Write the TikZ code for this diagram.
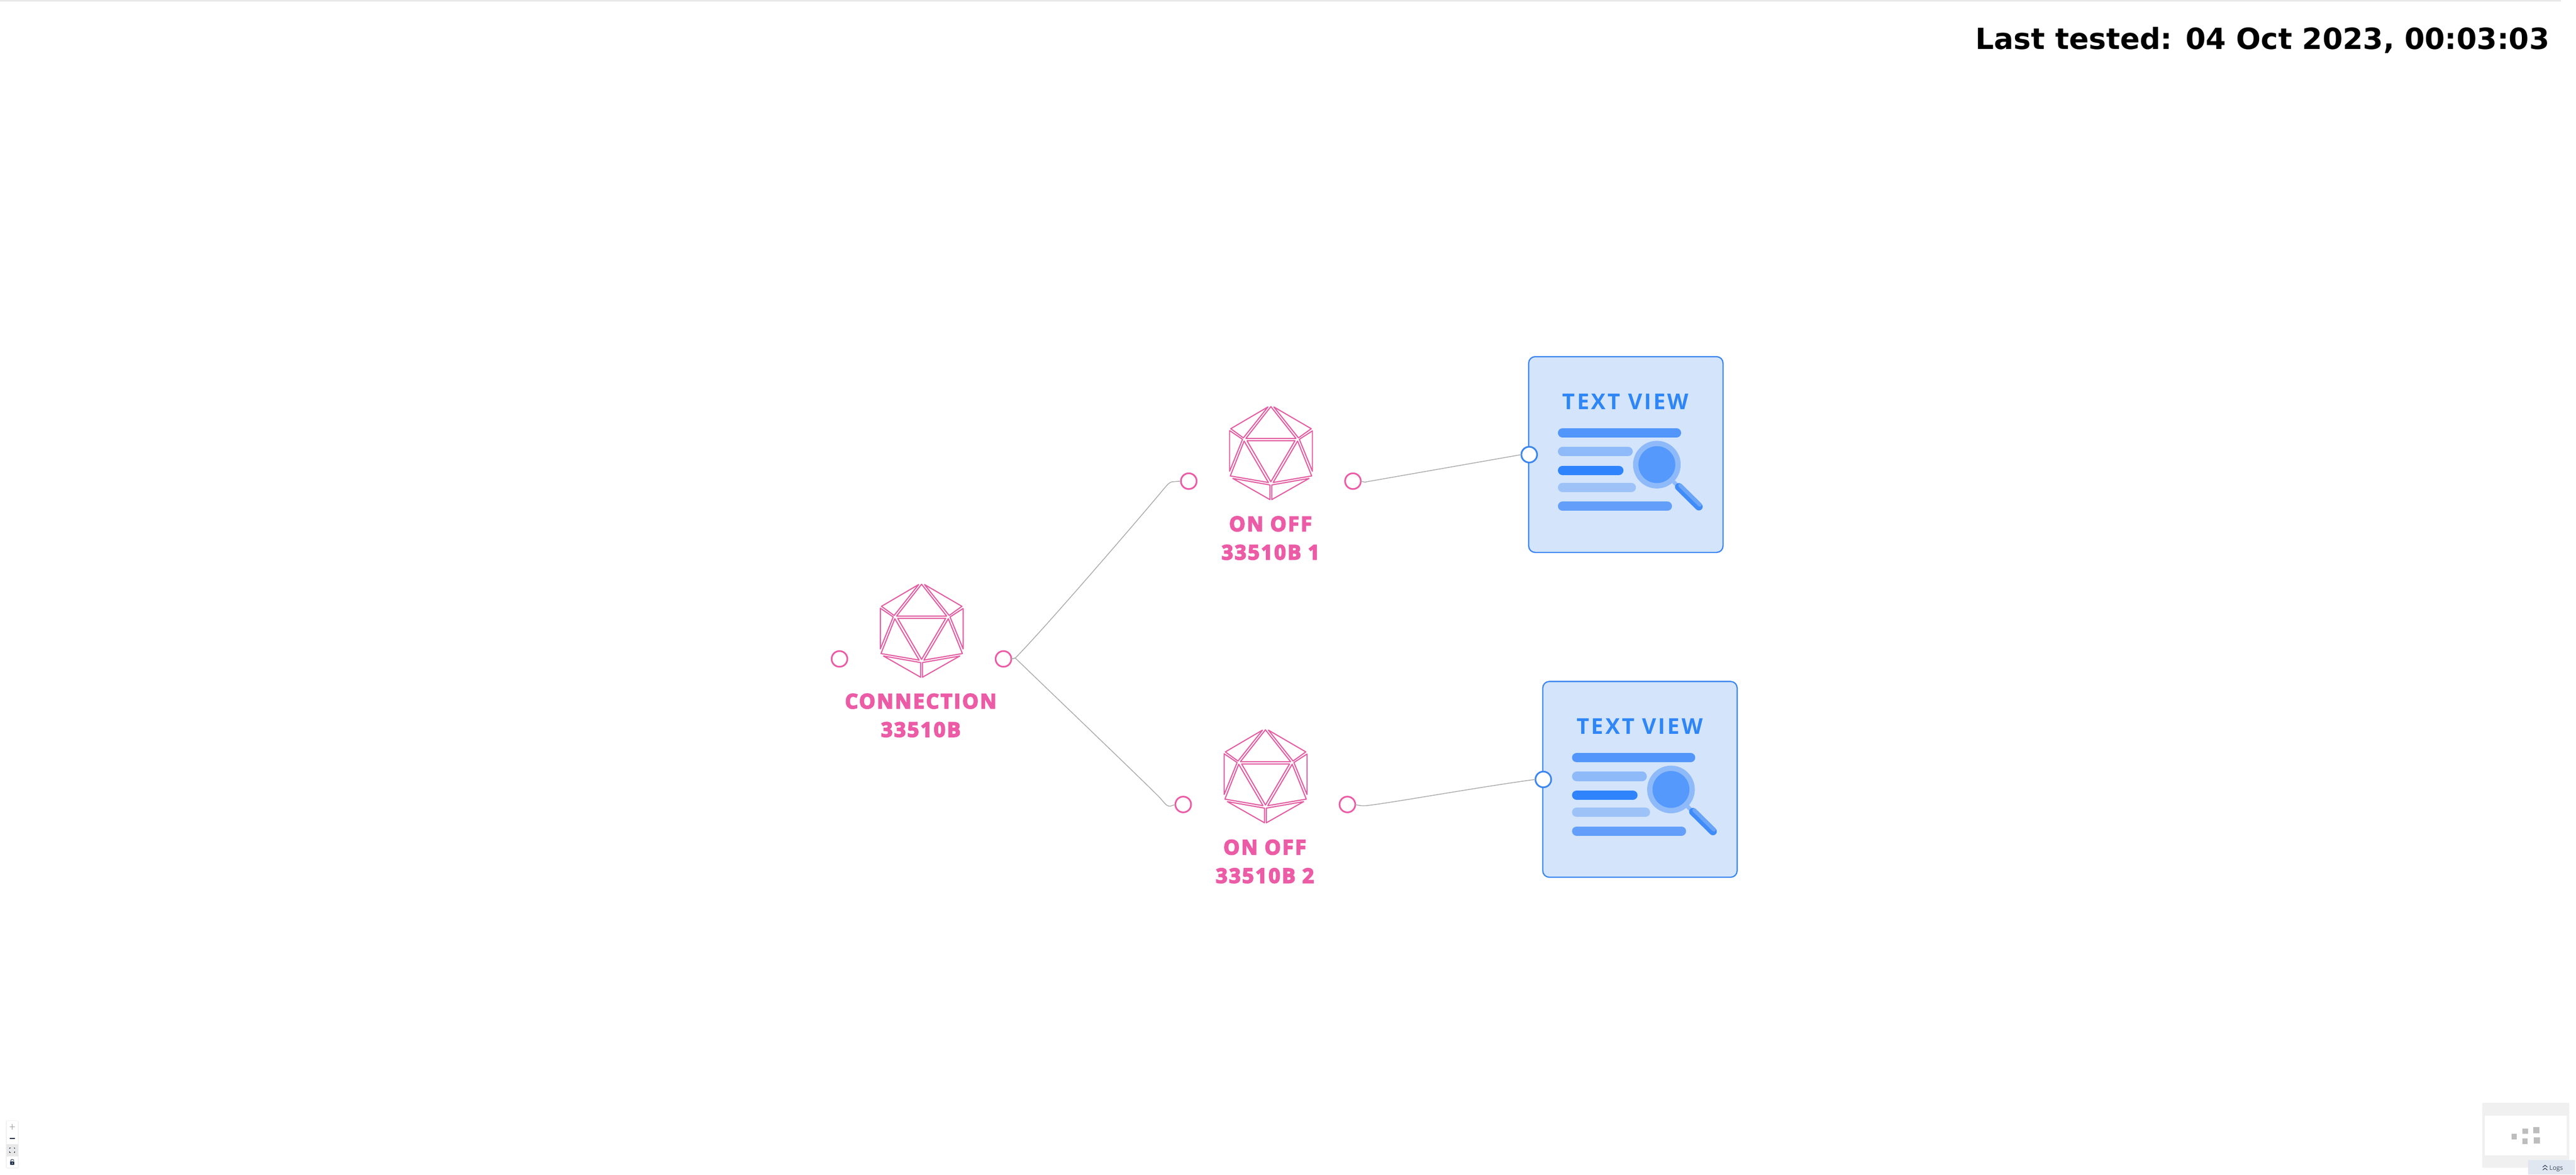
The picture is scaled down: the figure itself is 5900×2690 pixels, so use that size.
\documentclass[tikz,border=0pt]{standalone}
\usepackage{fontspec}
\setmainfont{Open Sans}
\newfontfamily\labfont[BoldFeatures={FakeBold=5,LetterSpace=8}]{Open Sans}
\newfontfamily\tvfont[BoldFeatures={LetterSpace=9}]{Open Sans}
\newfontfamily\stampfont{DejaVu Sans}
\definecolor{pinkc}{HTML}{EC5CA6}
\definecolor{iconp}{HTML}{E35FA3}
\definecolor{wire}{HTML}{ABABAB}
\definecolor{tvedge}{HTML}{3B86F0}
\definecolor{tvfill}{HTML}{D3E4FB}
\definecolor{tvtext}{HTML}{2F86F6}
\definecolor{barA}{HTML}{5296FB}
\definecolor{barB}{HTML}{8FBAF9}
\definecolor{barC}{HTML}{2F84FD}
\definecolor{barD}{HTML}{9DC2F8}
\definecolor{barE}{HTML}{639FFA}
\definecolor{lensin}{HTML}{5599FD}
\definecolor{handleL}{HTML}{6BA5F8}
\definecolor{handleD}{HTML}{3F8BF8}
\definecolor{mapbg}{HTML}{F0F0F0}
\definecolor{mapsq}{HTML}{BDBDBD}
\definecolor{logbg}{HTML}{E0E7F1}
\definecolor{inkd}{HTML}{1A2A44}
\tikzset{
  every node/.style={inner sep=0pt,outer sep=0pt},
  facet/.style={draw=iconp,line width=0.026cm,line join=round},
  pinkport/.style={circle,draw=pinkc,fill=white,line width=0.038cm,minimum size=0.36cm},
  blueport/.style={circle,draw=tvedge,fill=white,line width=0.038cm,minimum size=0.36cm},
  link/.style={draw=wire,line width=0.018cm,line join=round},
  pinklabel/.style={text=pinkc,align=center,font=\labfont\bfseries\fontsize{13.2pt}{18.5pt}\selectfont},
  bar/.style={line width=0.2133cm,line cap=round},
  ico/.pic={
    \begin{scope}[x=0.003333cm,y=-0.003333cm,shift={(-692,-113)}]
      \draw[facet] (692,113)--(865,332)--(520,332)--cycle;
      \draw[facet] (528,348)--(858,348)--(692,630)--cycle;
      \draw[facet] (672,115)--(503,328)--(416,265)--cycle;
      \draw[facet] (712,115)--(882,328)--(970,265)--cycle;
      \draw[facet] (408,278)--(497,338)--(408,558)--cycle;
      \draw[facet] (978,280)--(888,338)--(978,558)--cycle;
      \draw[facet] (508,350)--(675,635)--(413,590)--cycle;
      \draw[facet] (876,350)--(708,635)--(973,590)--cycle;
      \draw[facet] (430,607)--(686,652)--(686,753)--cycle;
      \draw[facet] (955,607)--(698,652)--(698,753)--cycle;
    \end{scope}
  },
  tview/.pic={
    \begin{scope}[x=0.003333cm,y=-0.003333cm]
      \node[draw=tvedge,fill=tvfill,line width=0.028cm,rounded corners=0.15cm,
            minimum width=4.45cm,minimum height=4.48cm] (box) at (762.5,753.5) {};
      \node[anchor=base,text=tvtext,font=\tvfont\bfseries\fontsize{14.2pt}{16pt}\selectfont] (title) at (761,442) {TEXT VIEW};
      \draw[bar,barA] (327,604)--(1111,604);
      \draw[bar,barB] (327,733)--(778,733);
      \draw[bar,barC] (327,862)--(714,862);
      \draw[bar,barD] (327,980)--(800,980);
      \draw[bar,barE] (327,1109)--(1048,1109);
      \draw[barB,line width=0.09cm] (1090,940)--(1135,985);
      \fill[barB] (976,823) circle (164);
      \fill[lensin] (976,823) circle (127);
      \draw[handleD,line width=0.175cm,line cap=round] (1127,976)--(1265,1112);
      \draw[handleL,line width=0.09cm,line cap=round] (1137,966)--(1272,1099);
    \end{scope}
  }
}
\begin{document}
\begin{tikzpicture}[x=0.01cm,y=-0.01cm]
\useasboundingbox (0,0) rectangle (5900,2690);
\fill[white] (0,0) rectangle (5900,2690);
\fill[black!9] (0,0) rectangle (5866,3);
\node[anchor=base west,font=\stampfont\bfseries\fontsize{18.95pt}{22pt}\selectfont] (stamp) at (4525,113) {Last tested: 04 Oct 2023, 00:03:03};

% icons
\pic (iconA) at (2110.7,1337.7) {ico};
\pic (iconB) at (2910.7,931) {ico};
\pic (iconC) at (2898.3,1671) {ico};

% labels
\node[pinklabel] (labA) at (2109,1638) {CONNECTION\\33510B};
\node[pinklabel] (labB) at (2910,1232) {ON OFF\\33510B 1};
\node[pinklabel] (labC) at (2897,1972.5) {ON OFF\\33510B 2};

% ports
\node[pinkport] (pAl) at (1922.7,1508.7) {};
\node[pinkport] (pAr) at (2298.3,1508.7) {};
\node[pinkport] (pBl) at (2722.7,1101.7) {};
\node[pinkport] (pBr) at (3098.7,1101.7) {};
\node[pinkport] (pCl) at (2710,1842) {};
\node[pinkport] (pCr) at (3086,1842) {};

% text views
\pic (tvA) at (3470,790) {tview};
\pic (tvB) at (3502.3,1533.7) {tview};
\node[blueport] (pTA) at ([xshift=0.013cm,yshift=-0.002cm]tvAbox.west) {};
\node[blueport] (pTB) at ([xshift=0.013cm,yshift=-0.002cm]tvBbox.west) {};

% connectors
\draw[link] (pAr.east) -- ++(9,-2) .. controls ++(60,-60) and (2600,1198) .. (2660,1126)
  .. controls (2672,1112) and (2678,1103) .. (2687,1103) -- (pBl.west);
\draw[link] (pAr.east) -- ++(9,-2) .. controls ++(60,58) and (2600,1770) .. (2654,1824)
  .. controls (2666,1836) and (2670,1846) .. (2680,1846) -- (pCl.west);
\draw[link] (pBr.east) .. controls ++(4,1) and ++(5,2) .. ++(10,2) -- (pTA.west);
\draw[link] (pCr.east) .. controls ++(6,2) and (3120,1846) .. (3135,1844) .. controls (3200,1836) and (3400,1800) .. (pTB.west);

% minimap
\fill[mapbg] (5685,2525) rectangle (5885,2674);
\fill[white] (5691,2554.3) rectangle (5879,2645);
\begin{scope}[shift={(5660,2500)},x=0.003333cm,y=-0.003333cm]
  \fill[mapsq] (277,290) rectangle (313,326);
  \fill[mapsq] (353,252) rectangle (390,288);
  \fill[mapsq] (352,322) rectangle (388,358);
  \fill[mapsq] (428,243) rectangle (470,285);
  \fill[mapsq] (431,313) rectangle (473,356);
  \fill[logbg] (390,468) rectangle (715,570);
  \draw[inkd,line width=0.012cm] (492,518)--(508,505)--(524,518);
  \draw[inkd,line width=0.012cm] (492,538)--(508,525)--(524,538);
  \node[anchor=base west,text=inkd!85,font=\fontsize{4.1pt}{5pt}\selectfont] (logs) at (538,538) {Logs};
\end{scope}

% zoom controls
\begin{scope}[shift={(0,2560)},x=0.003333cm,y=-0.003333cm]
  \fill[black!8,rounded corners=0.02cm] (41,17) rectangle (127,346);
  \fill[white] (45,20) rectangle (123,100);
  \fill[white] (45,101) rectangle (123,180);
  \fill[black!9] (45,181) rectangle (123,262);
  \fill[white] (45,263) rectangle (123,342);
  \draw[black!40,line width=0.016cm] (66,60)--(102,60) (84,42)--(84,78);
  \draw[inkd,line width=0.014cm] (66,140)--(102,140);
  \draw[inkd,line width=0.012cm] (67,212)--(67,205)--(74,205) (94,205)--(101,205)--(101,212)
     (67,230)--(67,237)--(74,237) (94,237)--(101,237)--(101,230);
  \fill[inkd,rounded corners=0.008cm] (70,298) rectangle (98,322);
  \fill[white] (84,310) circle (4);
  \draw[inkd,line width=0.012cm] (74,298)--(74,294) .. controls (74,282) and (90,282) .. (96,292);
\end{scope}
\end{tikzpicture}
\end{document}
